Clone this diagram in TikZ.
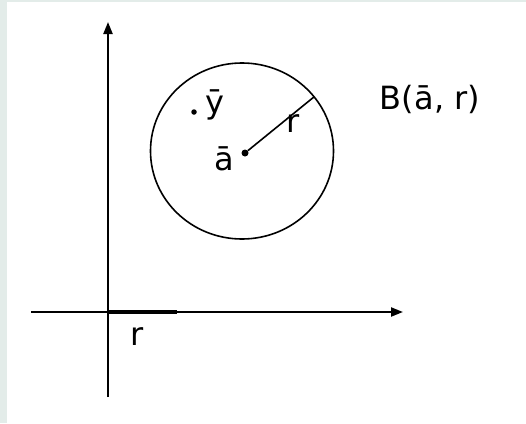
\documentclass[tikz,border=0pt]{standalone}
\usepackage{fontspec}
\setmainfont{DejaVu Sans}
\usetikzlibrary{arrows.meta,calc}
\definecolor{edge}{HTML}{E3ECE9}
\tikzset{
  axis/.style={line width=2.2pt, -{Triangle[length=12pt,width=9pt]}},
  thin/.style={line width=1.6pt},
  lbl/.style={inner sep=0pt, font=\fontsize{32}{32}\selectfont},
  dotpt/.style={circle, fill=black, inner sep=0pt, minimum size=7pt}
}
\begin{document}
\begin{tikzpicture}[x=1pt,y=-1pt]
\useasboundingbox (0,0) rectangle (526,423);
\fill[white] (0,0) rectangle (526,423);
\fill[edge] (0,0) rectangle (7,423);
\fill[edge] (0,0) rectangle (526,2);
% axes
\coordinate (xl) at (31,312);
\coordinate (xr) at (403,312);
\coordinate (yb) at (108,397);
\coordinate (yt) at (108,22);
\coordinate (o) at (108,312);
\coordinate (rr) at (177,312);
\draw[axis] (xl) -- (xr);
\draw[axis] (yb) -- (yt);
\draw[line width=4.5pt] (o) -- (rr);
\node[lbl] (rlab) at (137,337) {r};
% ball
\coordinate (c) at (242,151);
\draw[thin] (c) ellipse [x radius=91.5, y radius=88];
\node[dotpt] (a) at (245,153) {};
\coordinate (e) at ($(c)+(-38:91.5 and 88)$);
\draw[thin] (a) -- (e);
\node[lbl] (alab) at (224,159) {ā};
\node[dotpt, minimum size=5.5pt] (y) at (194,112) {};
\node[lbl] (ylab) at (215,105) {ȳ};
\node[lbl] (rad) at (293,124) {r};
\node[lbl] (B) at (430,99) {B(ā, r)};
\end{tikzpicture}
\end{document}
